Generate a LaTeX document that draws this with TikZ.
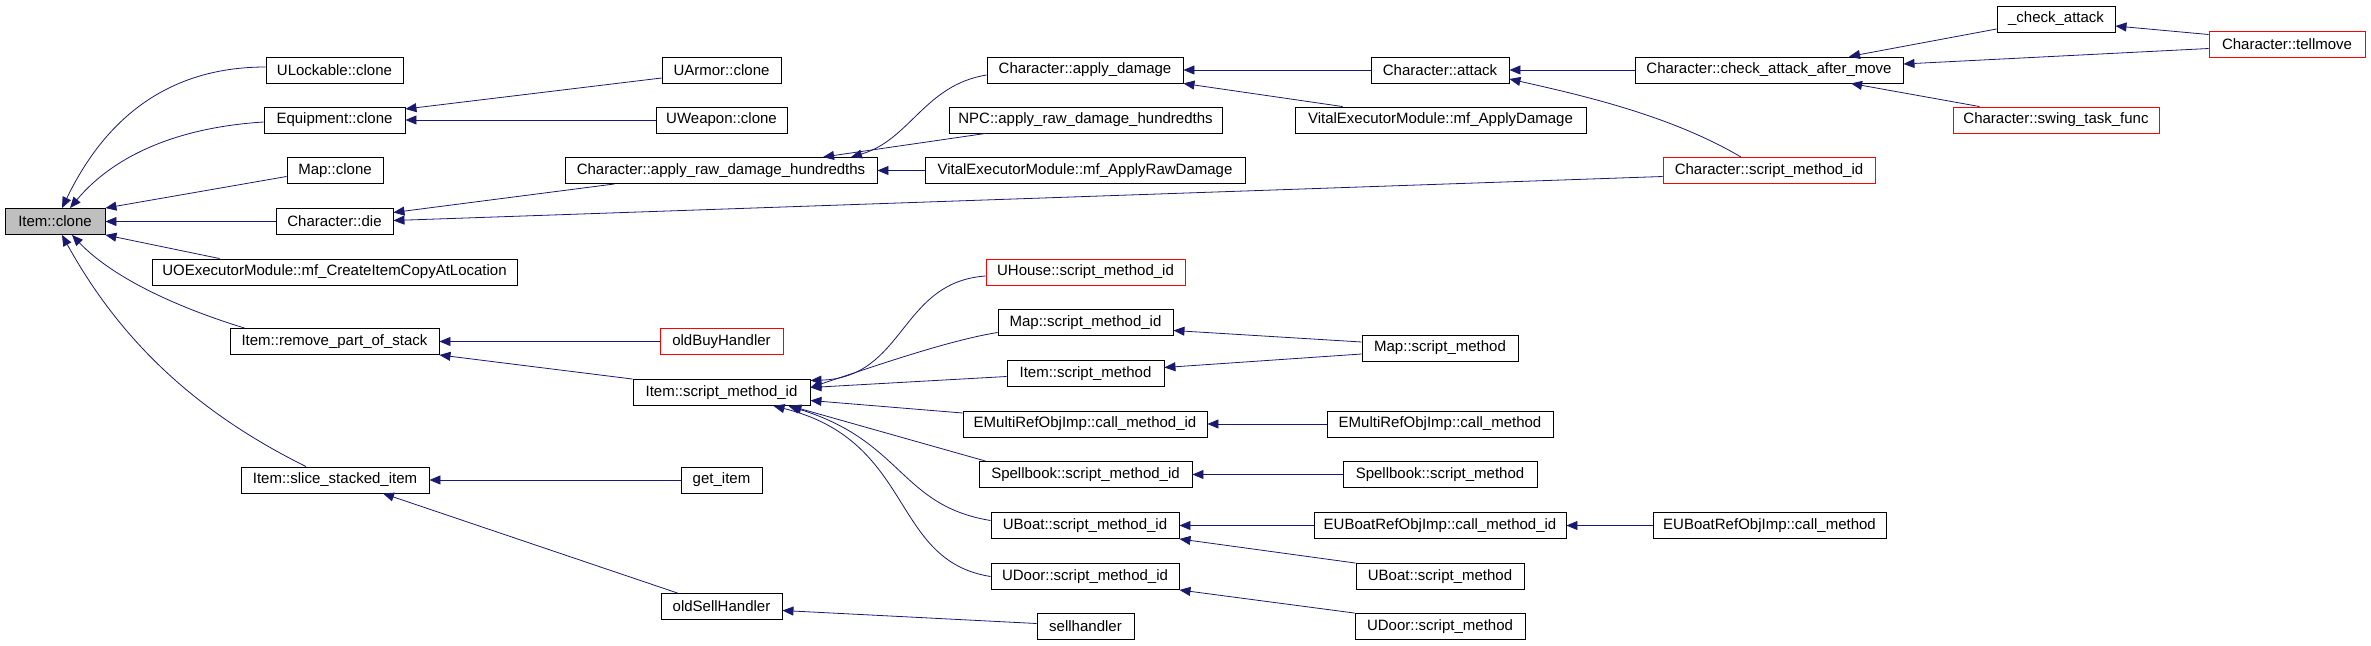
\documentclass[tikz,border=0pt]{standalone}
\usepackage{fontspec}
\setmainfont{Liberation Sans}
\usetikzlibrary{arrows.meta,calc}
\definecolor{edgeblue}{RGB}{25,25,112}
\definecolor{rootgray}{RGB}{191,191,191}
\tikzset{
  fn/.style={draw=black, line width=0.9pt, inner sep=0pt, font=\fontsize{15}{18}\selectfont, minimum height=26pt},
  ext/.style={fn, draw=red},
  root/.style={fn, fill=rootgray},
  edge/.style={draw=edgeblue, line width=0.8pt, -{Triangle[length=11pt,width=9pt]}}
}
\begin{document}
\begin{tikzpicture}[x=1pt,y=-1pt]
\useasboundingbox (0,0) rectangle (2371,645);
% column 0
\node[root, minimum width=100pt] (ic) at (55,221.5) {Item::clone};
% column 1
\node[fn, minimum width=137pt] (ulock) at (334.5,70) {ULockable::clone};
\node[fn, minimum width=141pt] (equip) at (334.5,120) {Equipment::clone};
\node[fn, minimum width=96pt] (mapc) at (335,170.5) {Map::clone};
\node[fn, minimum width=117pt] (die) at (334.5,221.5) {Character::die};
\node[fn, minimum width=365pt] (uoexec) at (334.5,272) {UOExecutorModule::mf\_CreateItemCopyAtLocation};
\node[fn, minimum width=209pt] (rps) at (334.5,341.5) {Item::remove\_part\_of\_stack};
\node[fn, minimum width=188pt] (ssi) at (335,480) {Item::slice\_stacked\_item};
% column 2
\node[fn, minimum width=119pt] (uarmor) at (721.5,70) {UArmor::clone};
\node[fn, minimum width=131pt] (uweapon) at (721.5,120) {UWeapon::clone};
\node[fn, minimum width=312pt] (araw) at (721,170.5) {Character::apply\_raw\_damage\_hundredths};
\node[ext, minimum width=123pt] (obuy) at (721.5,341.5) {oldBuyHandler};
\node[fn, minimum width=177pt] (ismid) at (721.5,392.5) {Item::script\_method\_id};
\node[fn, minimum width=81pt] (getitem) at (721.5,480) {get\_item};
\node[fn, minimum width=121pt] (osell) at (721.5,606.5) {oldSellHandler};
% column 3
\node[fn, minimum width=196pt] (adam) at (1085,70) {Character::apply\_damage};
\node[fn, minimum width=273pt] (npc) at (1085.5,120) {NPC::apply\_raw\_damage\_hundredths};
\node[fn, minimum width=320pt] (vraw) at (1085,170.5) {VitalExecutorModule::mf\_ApplyRawDamage};
\node[ext, minimum width=199pt] (uhouse) at (1085.5,272) {UHouse::script\_method\_id};
\node[fn, minimum width=175pt] (mapsmid) at (1085.5,322.5) {Map::script\_method\_id};
\node[fn, minimum width=157pt] (ism) at (1085.5,373.5) {Item::script\_method};
\node[fn, minimum width=244pt] (emid) at (1085,424) {EMultiRefObjImp::call\_method\_id};
\node[fn, minimum width=213pt] (sbid) at (1085.5,474.5) {Spellbook::script\_method\_id};
\node[fn, minimum width=188pt] (ubid) at (1085,525.5) {UBoat::script\_method\_id};
\node[fn, minimum width=188pt] (udid) at (1085,576.5) {UDoor::script\_method\_id};
\node[fn, minimum width=97pt] (sellh) at (1085.5,626.5) {sellhandler};
% column 4
\node[fn, minimum width=138pt] (attack) at (1440,70) {Character::attack};
\node[fn, minimum width=291pt] (vdam) at (1440.5,120) {VitalExecutorModule::mf\_ApplyDamage};
\node[fn, minimum width=156pt] (mapsm) at (1440,348) {Map::script\_method};
\node[fn, minimum width=226pt] (emcm) at (1440,424) {EMultiRefObjImp::call\_method};
\node[fn, minimum width=194pt] (sbsm) at (1440,474.5) {Spellbook::script\_method};
\node[fn, minimum width=252pt] (eubid) at (1440,525.5) {EUBoatRefObjImp::call\_method\_id};
\node[fn, minimum width=168pt] (ubsm) at (1440,576.5) {UBoat::script\_method};
\node[fn, minimum width=170pt] (udsm) at (1440,626.5) {UDoor::script\_method};
% column 5
\node[fn, minimum width=268pt] (check) at (1769,70) {Character::check\_attack\_after\_move};
\node[ext, minimum width=212pt] (csmid) at (1769,170.5) {Character::script\_method\_id};
\node[fn, minimum width=233pt] (eubcm) at (1769.5,525.5) {EUBoatRefObjImp::call\_method};
% column 6
\node[fn, minimum width=118pt] (chka) at (2056,19) {\_check\_attack};
\node[ext, minimum width=206pt] (swing) at (2056,120) {Character::swing\_task\_func};
% column 7
\node[ext, minimum width=156pt] (tell) at (2287,44.5) {Character::tellmove};

% edges into Item::clone
\draw[edge] ($(ulock.west)+(0,-3)$) .. controls +(-116,0) and +(33,-68) .. ($(ic.north)+(7,0)$);
\draw[edge] ($(equip.west)+(0,2)$) .. controls +(-94,6) and +(40,-48) .. ($(ic.north)+(15,0)$);
\draw[edge] ($(mapc.west)+(0,6)$) -- (ic.north east);
\draw[edge] (die.west) -- (ic.east);
\draw[edge] ($(uoexec.north west)+(68,0)$) -- (ic.south east);
\draw[edge] ($(rps.north west)+(15,0)$) .. controls +(-75,-23) and +(38,40) .. ($(ic.south)+(17,0)$);
\draw[edge] ($(ssi.north)+(-29,0)$) .. controls +(-111,-55) and +(58,105) .. ($(ic.south)+(7,0)$);
% Equipment::clone
\draw[edge] ($(uarmor.west)+(0,8)$) -- ($(equip.east)+(0,-11)$);
\draw[edge] (uweapon.west) -- (equip.east);
% Character::die
\draw[edge] ($(araw.south west)+(50,0)$) -- ($(die.east)+(0,-9)$);
\draw[edge] ($(csmid.west)+(0,6)$) -- ($(die.east)+(0,-1)$);
% apply_raw_damage_hundredths
\draw[edge] ($(adam.west)+(0,5)$) .. controls +(-62,10) and +(59,-17) .. ($(araw.north)+(130,0)$);
\draw[edge] ($(npc.south west)+(37,0)$) -- ($(araw.north)+(102,0)$);
\draw[edge] (vraw.west) -- (araw.east);
% apply_damage
\draw[edge] (attack.west) -- (adam.east);
\draw[edge] ($(vdam.north west)+(48,0)$) -- (adam.south east);
% attack
\draw[edge] (check.west) -- (attack.east);
\draw[edge] ($(csmid.north)+(-28,0)$) .. controls +(-71,-42) and +(71,16) .. ($(attack.east)+(0,9)$);
% check_attack_after_move
\draw[edge] ($(chka.west)+(0,10)$) -- ($(check.north)+(80,0)$);
\draw[edge] ($(tell.west)+(0,4)$) -- ($(check.east)+(0,-6)$);
\draw[edge] ($(swing.north west)+(27,0)$) -- ($(check.south)+(82,0)$);
\draw[edge] ($(tell.west)+(0,-10)$) -- ($(chka.east)+(0,7)$);
% remove_part_of_stack
\draw[edge] (obuy.west) -- (rps.east);
\draw[edge] (ismid.north west) -- (rps.south east);
% slice_stacked_item
\draw[edge] (getitem.west) -- (ssi.east);
\draw[edge] ($(osell.north west)+(17,0)$) -- ($(ssi.south)+(48,0)$);
\draw[edge] ($(sellh.west)+(0,-3)$) -- ($(osell.east)+(0,4)$);
% Item::script_method_id
\draw[edge] ($(uhouse.west)+(0,4)$) .. controls +(-86,6) and +(95,-3) .. ($(ismid.east)+(0,-12)$);
\draw[edge] ($(mapsmid.west)+(0,10)$) .. controls +(-50,8) and +(60,-20) .. ($(ismid.east)+(0,-5)$);
\draw[edge] ($(ism.west)+(0,3)$) -- ($(ismid.east)+(0,-5)$);
\draw[edge] ($(emid.west)+(0,-11)$) -- ($(ismid.east)+(0,8)$);
\draw[edge] ($(sbid.north west)+(7,0)$) -- ($(ismid.south east)+(-20,0)$);
\draw[edge] ($(ubid.west)+(0,-5)$) .. controls +(-91,-15) and +(115,35) .. ($(ismid.south east)+(-22,0)$);
\draw[edge] (udid.west) .. controls +(-101,-16) and +(142,35) .. ($(ismid.south)+(52,0)$);
% script_method level
\draw[edge] ($(mapsm.west)+(0,-6)$) -- ($(mapsmid.east)+(0,8)$);
\draw[edge] ($(mapsm.west)+(0,6)$) -- ($(ism.east)+(0,-6)$);
\draw[edge] (emcm.west) -- (emid.east);
\draw[edge] (sbsm.west) -- (sbid.east);
\draw[edge] (eubid.west) -- (ubid.east);
\draw[edge] (ubsm.north west) -- (ubid.south east);
\draw[edge] (udsm.north west) -- (udid.south east);
\draw[edge] (eubcm.west) -- (eubid.east);
\end{tikzpicture}
\end{document}
